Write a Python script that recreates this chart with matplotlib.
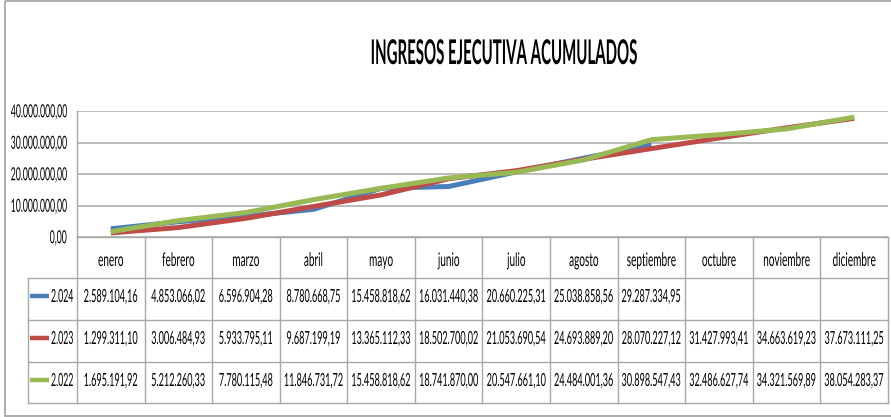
import numpy as np
import matplotlib
matplotlib.use('Agg')
import matplotlib.pyplot as plt
from matplotlib.patheffects import AbstractPathEffect
from matplotlib.transforms import Affine2D, blended_transform_factory
from matplotlib.textpath import TextPath
from matplotlib.font_manager import FontProperties
from matplotlib.patches import Rectangle

# ---------------- data ----------------
title = "INGRESOS EJECUTIVA ACUMULADOS"
months = ["enero", "febrero", "marzo", "abril", "mayo", "junio", "julio",
          "agosto", "septiembre", "octubre", "noviembre", "diciembre"]
series_labels = ["2.024", "2.023", "2.022"]
v2024 = [2589104.16, 4853066.02, 6596904.28, 8780668.75, 15458818.62,
         16031440.38, 20660225.31, 25038858.56, 29287334.95]
v2023 = [1299311.10, 3006484.93, 5933795.11, 9687199.19, 13365112.33,
         18502700.02, 21053690.54, 24693889.20, 28070227.12, 31427993.41,
         34663619.23, 37673111.25]
v2022 = [1695191.92, 5212260.33, 7780115.48, 11846731.72, 15458818.62,
         18741870.00, 20547661.10, 24484001.36, 30898547.43, 32486627.74,
         34321569.89, 38054283.37]
yticks = [0, 10000000, 20000000, 30000000, 40000000]
colors = ["#4A7EBB", "#BE4B48", "#98B954"]

# ---------------- helpers ----------------
W, H, DPI = 891, 417, 100
FONT = ['Lato', 'DejaVu Sans']
GRID = '#A8A8A8'


def fmt_es(v):
    return f"{v:,.2f}".replace(',', '#').replace('.', ',').replace('#', '.')


class Stretch(AbstractPathEffect):
    """Vertically stretch glyphs (text stays a Text artist) to mimic a
    condensed face: font size sets the width, the stretch sets the height."""

    def __init__(self, sy, anchor='baseline'):
        super().__init__()
        self.sy = sy
        self.anchor = anchor

    def draw_path(self, renderer, gc, tpath, affine, rgbFace=None):
        v = tpath.vertices
        if self.anchor == 'center' and len(v):
            cy = 0.5 * (v[:, 1].min() + v[:, 1].max())
        else:
            cy = 0.0
        t = Affine2D().translate(0, -cy).scale(1, self.sy).translate(0, cy)
        renderer.draw_path(gc, tpath, t + affine, rgbFace)


def fit(sample, size, target_px, weight='normal'):
    """Return (fontsize giving target width, vertical stretch restoring the
    glyph height of `size`)."""
    fp = FontProperties(family=FONT, size=size, weight=weight)
    w = TextPath((0, 0), sample, prop=fp).get_extents().width * DPI / 72
    k = target_px / w
    return size * k, 1.0 / k


def stext(axx, x, y, s, fs, sy, ha, transform, weight='normal'):
    t = axx.text(x, y, s, fontsize=fs, family=FONT, weight=weight,
                 ha=ha, va='baseline', transform=transform, color='black')
    t.set_path_effects([Stretch(sy, 'baseline')])
    return t


# ---------------- figure ----------------
fig = plt.figure(figsize=(W / DPI, H / DPI), dpi=DPI)
fig.patch.set_facecolor('white')

# overlay (pixel coordinates, y downward) for title, table and frame
tab = fig.add_axes([0, 0, 1, 1], zorder=0)
tab.set_xlim(0, W)
tab.set_ylim(H, 0)
tab.axis('off')

# plot area
PL, PR, PT, PB = 77, 888, 111, 237
ax = fig.add_axes([PL / W, 1 - PB / H, (PR - PL) / W, (PB - PT) / H], zorder=2)
ax.patch.set_alpha(0)
x = np.arange(len(months))
ax.set_xlim(-0.5, len(months) - 0.5)
ax.set_ylim(yticks[0], yticks[-1])
ax.set_xticks([])
ax.set_yticks(yticks)
fs_tick, sy_tick = fit("40.000.000,00", 13, 56)
ax.set_yticklabels([fmt_es(v) for v in yticks], fontsize=fs_tick, family=FONT)
ax.tick_params(axis='y', length=0, pad=7.4)
for lab in ax.get_yticklabels():
    lab.set_path_effects([Stretch(sy_tick, 'center')])
ax.yaxis.grid(True, color=GRID, lw=1.1)
ax.set_axisbelow(True)
for side in ['top', 'right', 'bottom']:
    ax.spines[side].set_visible(False)
ax.spines['left'].set_color(GRID)
ax.spines['left'].set_linewidth(1.0)

series = [v2024, v2023, v2022]
for vals, col in zip(series, colors):
    ax.plot(x[:len(vals)], vals, color=col, lw=3.6,
            solid_joinstyle='round', solid_capstyle='butt', zorder=3)

# title
fs_title, sy_title = fit(title, 24.5, 265, weight='bold')
stext(tab, 504.5, 64, title, fs_title, sy_title, 'center', tab.transData,
      weight='bold')

# ---------------- data table ----------------
bt = blended_transform_factory(ax.transData, tab.transData)
HDR_B = 278
row_tops = [278, 320, 362]
row_bot = 403
LBL_L = 28
lc = GRID
lw = 1.0

# header row
tab.plot([-0.5, len(months) - 0.5], [PB, PB], color=lc, lw=lw, transform=bt)
for k in range(len(months) + 1):
    tab.plot([k - 0.5, k - 0.5], [PB, row_bot], color=lc, lw=lw, transform=bt)
# row separators
for y in row_tops + [row_bot]:
    tab.plot([LBL_L, PR], [y, y], color=lc, lw=lw)
tab.plot([LBL_L, LBL_L], [HDR_B, row_bot], color=lc, lw=lw)

fs_month, sy_month = fit("febrero", 13.5, 32)
for i, m in enumerate(months):
    stext(tab, i, 266, m, fs_month, sy_month, 'center', bt)

fs_val, sy_val = fit("15.458.818,62", 13, 58)
fs_lbl, sy_lbl = fit("2.024", 13, 21.7)
for r, (lab, vals, col) in enumerate(zip(series_labels, series, colors)):
    base = row_tops[r] + 24
    tab.plot([30, 49], [base - 6.5, base - 6.5], color=col, lw=3.2,
             solid_capstyle='butt')
    stext(tab, 51, base, lab, fs_lbl, sy_lbl, 'left', tab.transData)
    for i, v in enumerate(vals):
        stext(tab, i, base, fmt_es(v), fs_val, sy_val, 'center', bt)

# outer chart frame
tab.add_patch(Rectangle((4.5, 0.8), 900, 415.2, fill=False, ec='#A0A0A0',
                        lw=1.2))

fig.savefig('out.png', dpi=DPI, facecolor='white')
